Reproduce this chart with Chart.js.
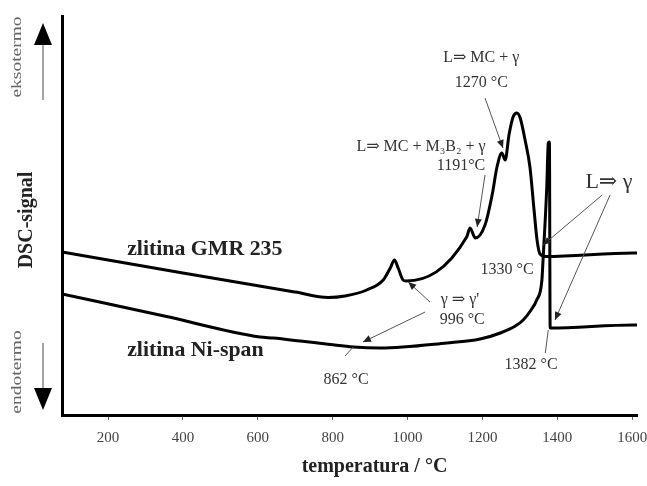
<!DOCTYPE html>
<html>
<head>
<meta charset="utf-8">
<script src="https://cdn.jsdelivr.net/npm/chart.js@4.4.1/dist/chart.umd.min.js"></script>
<style>
  html, body { margin: 0; padding: 0; background: #fff; }
</style>
</head>
<body>
<canvas id="dsc" width="647" height="486"></canvas>
<script>
// DSC krivulji, temperatura v °C, signal v poljubnih enotah
var gmrTemp   = [77, 400, 700, 788, 833, 891, 935, 954, 965, 975, 988, 996, 1158, 1167, 1181, 1207, 1226, 1239, 1252, 1261, 1271, 1282, 1292, 1301, 1314, 1327, 1338, 1346, 1354, 1370, 1603, 1613];
var gmrSignal = [163, 142, 123, 117.5, 119, 125, 135, 147, 155, 147, 135, 134, 178, 187, 177, 190, 220, 248, 262, 255, 280, 298, 302, 297, 275, 248, 205, 175, 161, 158.5, 162, 162];

var nispanTemp   = [77, 350, 606, 641, 713, 793, 855, 927, 1105, 1194, 1248, 1288, 1309, 1330, 1345, 1359, 1362, 1372, 1376, 1379, 1381, 1603, 1613];
var nispanSignal = [121, 99, 78, 77, 74, 70.5, 68, 67, 72, 76, 82, 89, 95, 105, 115, 135, 155, 228, 272, 273, 87, 90, 90];

var seriesNames = ['zlitina GMR 235', 'zlitina Ni-span'];
var xTicks = [200, 400, 600, 800, 1000, 1200, 1400, 1600];
var xTitle = 'temperatura / °C';
var yTitle = 'DSC-signal';

// napisi ob krivuljah (v koordinatah grafa)
var notes = [
  { text: seriesNames[0], t: 251, v: 165, size: 21, bold: true, sx: 1.04, align: 'left', color: '#222' },
  { text: seriesNames[1], t: 251, v: 64, size: 21, bold: true, sx: 1.04, align: 'left', color: '#222' },
  { text: 'L⇒ MC + γ', t: 1197, v: 357, size: 16 },
  { text: '1270 °C', t: 1197, v: 332, size: 16 },
  { text: 'L⇒ MC + M₃B₂ + γ', t: 1036, v: 268, size: 16 },
  { text: '1191°C', t: 1143, v: 249, size: 16 },
  { text: '1330 °C', t: 1266, v: 145, size: 16 },
  { text: 'L⇒ γ', t: 1538, v: 233, size: 22 },
  { text: 'γ ⇒ γ\'', t: 1140, v: 115, size: 16 },
  { text: '996 °C', t: 1146, v: 95, size: 16 },
  { text: '862 °C', t: 836, v: 35, size: 16 },
  { text: '1382 °C', t: 1330, v: 50, size: 16 }
];

var pointers = [
  { from: [1207, 317], to: [1255, 267], head: true },
  { from: [1207, 240], to: [1186, 188], head: true },
  { from: [1060, 113], to: [1002, 133], head: true },
  { from: [1047, 103], to: [881, 73], head: true },
  { from: [833, 59], to: [855, 68], head: false },
  { from: [1368, 62], to: [1376, 85], head: false },
  { from: [1520, 220], to: [1362, 170], head: true },
  { from: [1541, 220], to: [1394, 95], head: true }
];

function toPoints(xs, ys) {
  return xs.map(function(x, i) { return { x: x, y: ys[i] }; });
}

function drawText(ctx, n, x, y) {
  ctx.save();
  ctx.translate(x, y);
  if (n.rotate) ctx.rotate(n.rotate);
  ctx.scale(n.sx || 1, 1);
  ctx.font = (n.bold ? 'bold ' : '') + n.size + 'px "Liberation Serif", "DejaVu Serif", serif';
  ctx.fillStyle = n.color || '#333';
  ctx.textAlign = n.align || 'center';
  ctx.textBaseline = 'middle';
  ctx.fillText(n.text, 0, 0);
  ctx.restore();
}

function arrowHead(ctx, x0, y0, x1, y1, len, half) {
  var a = Math.atan2(y1 - y0, x1 - x0);
  ctx.beginPath();
  ctx.moveTo(x1, y1);
  ctx.lineTo(x1 - len * Math.cos(a) + half * Math.sin(a), y1 - len * Math.sin(a) - half * Math.cos(a));
  ctx.lineTo(x1 - len * Math.cos(a) - half * Math.sin(a), y1 - len * Math.sin(a) + half * Math.cos(a));
  ctx.closePath();
  ctx.fill();
}

var annotationPlugin = {
  id: 'dscNotes',
  afterDraw: function(chart) {
    var ctx = chart.ctx;
    var xs = chart.scales.x, ys = chart.scales.y;
    var area = chart.chartArea;

    // kazalci
    ctx.save();
    ctx.strokeStyle = '#555';
    ctx.fillStyle = '#222';
    ctx.lineWidth = 1;
    pointers.forEach(function(p) {
      var x0 = xs.getPixelForValue(p.from[0]), y0 = ys.getPixelForValue(p.from[1]);
      var x1 = xs.getPixelForValue(p.to[0]), y1 = ys.getPixelForValue(p.to[1]);
      ctx.beginPath();
      ctx.moveTo(x0, y0);
      ctx.lineTo(x1, y1);
      ctx.stroke();
      if (p.head) arrowHead(ctx, x0, y0, x1, y1, 8, 3.5);
    });
    ctx.restore();

    notes.forEach(function(n) {
      drawText(ctx, n, xs.getPixelForValue(n.t), ys.getPixelForValue(n.v));
    });

    // oznake ob osi y
    drawText(ctx, { text: yTitle, size: 20, bold: true, rotate: -Math.PI / 2, color: '#222' }, 27, 220);
    drawText(ctx, { text: 'eksotermo', size: 15, rotate: -Math.PI / 2, sx: 1.3, color: '#666' }, 17, 57);
    drawText(ctx, { text: 'endotermo', size: 15, rotate: -Math.PI / 2, sx: 1.3, color: '#666' }, 17, 372);
    drawText(ctx, { text: xTitle, size: 20, bold: true, color: '#222' }, (area.left + area.right) / 2 + 25, 467);

    ctx.save();
    ctx.strokeStyle = '#888';
    ctx.fillStyle = '#000';
    ctx.lineWidth = 1.5;
    ctx.beginPath();
    ctx.moveTo(43, 100); ctx.lineTo(43, 40);
    ctx.moveTo(43, 343); ctx.lineTo(43, 390);
    ctx.stroke();
    arrowHead(ctx, 43, 100, 43, 23, 22, 9);
    arrowHead(ctx, 43, 343, 43, 410, 22, 9);
    ctx.restore();
  }
};

new Chart(document.getElementById('dsc').getContext('2d'), {
  type: 'line',
  data: {
    datasets: [
      {
        label: seriesNames[0],
        data: toPoints(gmrTemp, gmrSignal),
        borderColor: '#000',
        borderWidth: 3,
        pointRadius: 0,
        fill: false,
        cubicInterpolationMode: 'monotone'
      },
      {
        label: seriesNames[1],
        data: toPoints(nispanTemp, nispanSignal),
        borderColor: '#000',
        borderWidth: 3,
        pointRadius: 0,
        fill: false,
        cubicInterpolationMode: 'monotone'
      }
    ]
  },
  options: {
    responsive: false,
    devicePixelRatio: 1,
    animation: false,
    layout: { padding: { top: 16, right: 10, bottom: 0, left: 0 } },
    plugins: {
      legend: { display: false },
      tooltip: { enabled: false }
    },
    scales: {
      x: {
        type: 'linear',
        min: 77,
        max: 1613,
        border: { color: '#000', width: 3 },
        grid: { drawOnChartArea: false, drawTicks: true, tickLength: 5, color: '#666' },
        ticks: {
          font: { family: '"Liberation Serif", serif', size: 15 },
          color: '#444',
          padding: 9,
          maxRotation: 0,
          callback: function(v) { return String(v); }
        },
        afterBuildTicks: function(s) {
          s.ticks = xTicks.map(function(v) { return { value: v }; });
        },
        afterFit: function(s) {
          s.height = 71;
          s.paddingLeft = 0;
          s.paddingRight = 0;
        }
      },
      y: {
        min: 0,
        max: 399,
        border: { color: '#000', width: 3 },
        grid: { display: false },
        ticks: { display: false },
        afterFit: function(s) { s.width = 62; }
      }
    }
  },
  plugins: [annotationPlugin]
});
</script>
</body>
</html>
